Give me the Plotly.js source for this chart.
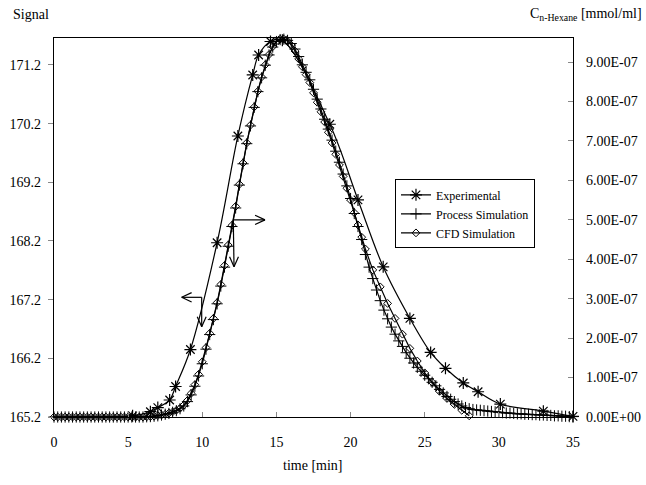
<!DOCTYPE html>
<html>
<head>
<meta charset="utf-8">
<script src="https://cdn.plot.ly/plotly-3.0.1.min.js"></script>
<style>html,body{margin:0;padding:0;background:#fff;}#chart{width:646px;height:485px;}</style>
</head>
<body>
<div id="chart"></div>
<script>
// Experimental signal (left axis)
const expT = [5.3, 6.5, 7.0, 7.8, 8.2, 9.2, 11.0, 12.4, 13.4, 13.8, 14.6, 15.4, 18.6, 20.5, 22.2, 24.0, 25.4, 26.4, 27.6, 28.6, 30.1, 33.0, 35.0];
const expS = [165.22, 165.29, 165.36, 165.49, 165.72, 166.35, 168.17, 169.99, 171.03, 171.37, 171.6, 171.62, 170.19, 168.9, 167.76, 166.88, 166.3, 166.03, 165.78, 165.63, 165.42, 165.3, 165.21];

// Process simulation, concentration in units of 1e-7 mmol/ml, sampled every 0.25 min from 0
const procStep = 0.25;
const procC = [
  0,0,0,0,0,0,0,0,0,0,0,0,0,0,0,0,0,0,0,0,0,0,0,0,0,
  0.005,0.01,0.02,0.03,0.05,0.07,0.09,0.12,0.16,0.21,0.28,0.39,
  0.56,0.78,1.04,1.35,1.72,2.09,2.47,2.87,3.32,3.8,4.33,4.83,
  5.3,5.88,6.42,6.93,7.38,7.85,8.25,8.6,8.92,9.18,9.38,9.52,
  9.57,9.58,9.55,9.47,9.33,9.14,8.93,8.74,8.55,8.31,8.06,7.81,
  7.55,7.3,7.02,6.74,6.46,6.16,5.86,5.54,5.16,4.83,4.5,4.12,
  3.8,3.51,3.22,2.95,2.71,2.49,2.28,2.1,1.93,1.79,1.63,1.49,
  1.37,1.26,1.16,1.06,0.97,0.88,0.79,0.7,0.61,0.52,0.45,0.39,
  0.33,0.28,0.24,0.21,0.19,0.18,0.17,0.16,0.15,0.14,0.13,0.12,
  0.11,0.10,0.10,0.09,0.08,0.08,0.07,0.07,0.06,0.06,0.05,0.05,
  0.04,0.04,0.03,0.03,0.02,0.02,0.01,0.01
];
const procT = procC.map((_, i) => i * procStep);

// CFD simulation, concentration in units of 1e-7 mmol/ml
const cfdStep = 0.25;
const cfdC1 = [
  0,0,0,0,0,0,0,0,0,0,0,0,0,0,0,0,0,0,0,0,0,0,0,0,0,
  0.005,0.01,0.02,0.035,0.05,0.07,0.1,0.13,0.17,0.22,0.3,0.42,
  0.6,0.82,1.08,1.4,1.76,2.12,2.5,2.9,3.36,3.84,4.36,4.86,
  5.34,5.9,6.44,6.95,7.4,7.86,8.26,8.62,8.93,9.19,9.39,9.53,
  9.58,9.58,9.53,9.43,9.28,9.08,8.88,8.68,8.48,8.22,7.98,7.74,
  7.48,7.22,6.95,6.66,6.39,6.1,5.8,5.5,5.18,4.87,4.56,4.26
];
const cfdT2 = [21.5, 22.0, 22.5, 23.0, 23.5, 24.0, 24.5, 25.0, 25.5, 26.0, 26.5, 27.0, 27.5, 28.0];
const cfdC2 = [3.73, 3.3, 2.88, 2.5, 2.1, 1.74, 1.42, 1.12, 0.88, 0.65, 0.47, 0.32, 0.17, 0.03];
const cfdT = cfdC1.map((_, i) => i * cfdStep).concat(cfdT2);
const cfdC = cfdC1.concat(cfdC2);

// Axis ticks
const leftTicks = [165.2, 166.2, 167.2, 168.2, 169.2, 170.2, 171.2];
const rightTicks = [0, 1, 2, 3, 4, 5, 6, 7, 8, 9];
const rightLabels = ["0.00E+00","1.00E-07","2.00E-07","3.00E-07","4.00E-07","5.00E-07","6.00E-07","7.00E-07","8.00E-07","9.00E-07"];
const names = ["Experimental", "Process Simulation", "CFD Simulation"];

const FONT = "Liberation Serif";

const traces = [
  {x: expT, y: expS, name: names[0], type: 'scatter', mode: 'lines+markers', yaxis: 'y',
   line: {color: '#000', width: 1.2, shape: 'spline', smoothing: 1},
   marker: {symbol: 'asterisk-open', size: 10, color: '#000', line: {color: '#000', width: 1.2}},
   cliponaxis: false},
  {x: procT, y: procC, name: names[1], type: 'scatter', mode: 'lines+markers', yaxis: 'y2',
   line: {color: '#000', width: 1.2},
   marker: {symbol: 'cross-thin-open', size: 8, color: '#000', line: {color: '#000', width: 1}},
   cliponaxis: false},
  {x: cfdT, y: cfdC, name: names[2], type: 'scatter', mode: 'lines+markers', yaxis: 'y2',
   line: {color: '#000', width: 1.2},
   marker: {symbol: 'diamond-open', size: 6, color: '#000', line: {color: '#000', width: 1}},
   cliponaxis: false}
];

function seg(x0, y0, x1, y1, yref) {
  return {type: 'line', xref: 'x', yref: yref, x0: x0, y0: y0, x1: x1, y1: y1,
          line: {color: '#000', width: 1.2}};
}
const shapes = [
  seg(9.96, 167.24, 8.61, 167.24, 'y'),
  seg(8.61, 167.24, 9.28, 167.32, 'y'),
  seg(8.61, 167.24, 9.28, 167.16, 'y'),
  seg(9.96, 167.24, 9.96, 166.74, 'y'),
  seg(9.96, 166.74, 9.66, 166.91, 'y'),
  seg(9.96, 166.74, 10.26, 166.91, 'y'),
  seg(12.09, 168.56, 14.23, 168.56, 'y'),
  seg(14.23, 168.56, 13.56, 168.64, 'y'),
  seg(14.23, 168.56, 13.56, 168.48, 'y'),
  seg(12.09, 168.56, 12.14, 167.76, 'y'),
  seg(12.14, 167.76, 11.84, 167.93, 'y'),
  seg(12.14, 167.76, 12.44, 167.93, 'y')
];

const layout = {
  width: 646, height: 485,
  margin: {l: 54, r: 73, t: 38, b: 68, pad: 0},
  paper_bgcolor: '#fff', plot_bgcolor: '#fff',
  font: {family: FONT, size: 14, color: '#000'},
  showlegend: true,
  legend: {x: 0.657, y: 0.627, xanchor: 'left', yanchor: 'top',
           bgcolor: '#fff', bordercolor: '#000', borderwidth: 1,
           font: {family: FONT, size: 12, color: '#000'}, tracegroupgap: 0},
  xaxis: {range: [0, 35], tickvals: [0,5,10,15,20,25,30,35], ticks: 'inside', ticklen: 5,
          tickcolor: '#888', showline: true, linecolor: '#000', linewidth: 1.2, mirror: true,
          showgrid: false, zeroline: false, ticklabelstandoff: 12,
          tickfont: {family: FONT, size: 14}},
  yaxis: {range: [165.2, 171.66], tickvals: leftTicks, tickformat: '.1f', ticks: 'outside', ticklen: 5,
          tickcolor: '#888', showline: true, linecolor: '#000', linewidth: 1.2,
          showgrid: false, zeroline: false, ticklabelstandoff: 4,
          tickfont: {family: FONT, size: 14}},
  yaxis2: {range: [0, 9.61], overlaying: 'y', side: 'right', tickvals: rightTicks, ticktext: rightLabels,
           ticks: 'inside', ticklen: 5, tickcolor: '#888', showline: true, linecolor: '#000', linewidth: 1.2,
           showgrid: false, zeroline: false, ticklabelstandoff: 9,
           tickfont: {family: FONT, size: 14}},
  shapes: shapes,
  annotations: [
    {text: 'Signal', xref: 'paper', yref: 'paper', x: -0.083, y: 1.061, xanchor: 'left', yanchor: 'middle',
     showarrow: false, font: {family: FONT, size: 14}},
    {text: 'C<sub>n-Hexane</sub> [mmol/ml]', xref: 'paper', yref: 'paper', x: 1.137, y: 1.061,
     xanchor: 'right', yanchor: 'middle', showarrow: false, font: {family: FONT, size: 14}},
    {text: 'time [min]', xref: 'paper', yref: 'paper', x: 0.499, y: -0.127, xanchor: 'center', yanchor: 'middle',
     showarrow: false, font: {family: FONT, size: 14}}
  ]
};

Plotly.newPlot('chart', traces, layout, {displayModeBar: false, staticPlot: true});
</script>
</body>
</html>
